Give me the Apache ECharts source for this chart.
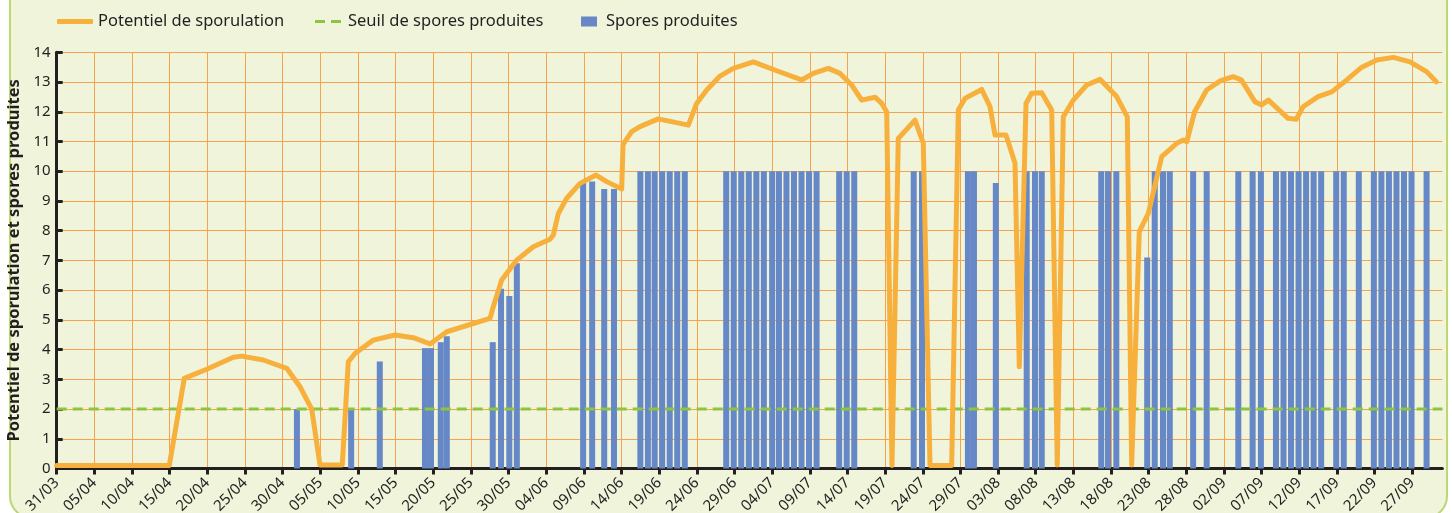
<!DOCTYPE html>
<html>
<head>
<meta charset="utf-8">
<script src="https://cdn.jsdelivr.net/npm/echarts@6/dist/echarts.min.js"></script>
<style>
  html, body { margin: 0; padding: 0; background: #ffffff; }
  #chart { width: 1452px; height: 513px; }
</style>
</head>
<body>
<div id="chart"></div>
<script>
// jour 0 = 31/03
const tickDays = [0, 5, 10, 15, 20, 25, 30, 35, 40, 45, 50, 55, 60, 65, 70, 75, 80, 85, 90, 95,
  100, 105, 110, 115, 120, 125, 130, 135, 140, 145, 150, 155, 160, 165, 170, 175, 180];
const tickLabels = ['31/03', '05/04', '10/04', '15/04', '20/04', '25/04', '30/04', '05/05', '10/05',
  '15/05', '20/05', '25/05', '30/05', '04/06', '09/06', '14/06', '19/06', '24/06', '29/06', '04/07',
  '09/07', '14/07', '19/07', '24/07', '29/07', '03/08', '08/08', '13/08', '18/08', '23/08', '28/08',
  '02/09', '07/09', '12/09', '17/09', '22/09', '27/09'];

// potentiel de sporulation (jour, valeur)
const potentielJour = [0, 14.95, 16.94, 19.92, 23.45, 24.56, 27.43, 30.54, 32.31, 33.86, 34.96, 37.92,
  38.72, 39.61, 42.04, 44.92, 47.35, 49.57, 51.79, 57.54, 57.97, 59.09, 61.08, 63.29, 65.5, 65.94,
  66.61, 67.72, 69.49, 71.61, 73.03, 75.02, 75.2, 76.35, 77.45, 79.88, 83.87, 84.98, 86.31, 88.08,
  89.84, 92.5, 95.6, 98.92, 100.47, 102.46, 104.01, 105.56, 106.89, 108.66, 109.55, 110.21, 110.91,
  111.75, 113.97, 115.07, 115.96, 118.84, 119.72, 120.61, 122.83, 123.93, 124.59, 126.05, 127.25,
  127.82, 128.71, 129.46, 130.79, 132.12, 132.86, 133.66, 134.99, 136.77, 138.53, 140.75, 142.16,
  142.74, 143.75, 144.95, 146.73, 148.72, 149.6, 150.05, 151.1, 152.7, 154.5, 156.2, 157.3, 159.1,
  160.0, 160.9, 163.5, 164.6, 165.5, 167.5, 169.3, 171.3, 173.3, 175.3, 177.5, 179.7, 181.9, 183.2];
const potentielValeur = [0.1, 0.1, 3.03, 3.34, 3.74, 3.78, 3.65, 3.37, 2.75, 2.0, 0.12, 0.12,
  3.59, 3.87, 4.32, 4.49, 4.40, 4.19, 4.60, 5.05, 5.44, 6.34, 7.01, 7.46, 7.71, 7.85,
  8.58, 9.09, 9.59, 9.87, 9.65, 9.40, 10.9, 11.33, 11.5, 11.76, 11.55, 12.28, 12.73, 13.2,
  13.46, 13.68, 13.38, 13.07, 13.29, 13.46, 13.29, 12.9, 12.39, 12.49, 12.28, 12.0, 0.1,
  11.1, 11.72, 10.94, 0.1, 0.1, 12.06, 12.45, 12.75, 12.17, 11.22, 11.22, 10.27,
  3.42, 12.28, 12.62, 12.64, 12.06, 0.12, 11.83, 12.39, 12.9, 13.09, 12.51, 11.83,
  0.12, 7.97, 8.58, 10.49, 10.94, 11.05, 10.99, 12.0, 12.73, 13.04, 13.18, 13.07, 12.34,
  12.23, 12.39, 11.78, 11.75, 12.17, 12.51, 12.67, 13.07, 13.5, 13.74, 13.83, 13.68, 13.35, 13.01];

// spores produites (jour, valeur)
const sporesJour = [31.9, 39.1, 42.9, 48.9, 49.7, 51.0, 51.8, 57.9, 59.0, 60.1, 61.1, 69.9, 71.1, 72.7, 74.0,
  77.5, 78.5, 79.4, 80.4, 81.4, 82.4, 83.4,
  88.9, 89.9, 90.9, 91.9, 92.9, 93.9, 95.0, 95.9, 96.9, 97.9, 98.9, 99.9, 100.9,
  103.9, 104.9, 105.9, 113.8, 114.9, 121.0, 121.8, 124.7, 128.8, 129.9, 130.8,
  138.7, 139.6, 140.7, 144.8, 145.8, 146.9, 147.8, 150.9, 152.7, 156.9, 158.8, 159.9,
  161.9, 162.9, 163.9, 164.9, 165.9, 166.9, 167.9, 169.9, 170.9, 172.9,
  174.9, 175.9, 176.9, 177.9, 178.9, 179.9, 181.9];
const sporesValeur = [2.0, 2.0, 3.6, 4.05, 4.05, 4.25, 4.45, 4.25, 6.05, 5.8, 6.9, 9.6, 9.65, 9.4, 9.4,
  10, 10, 10, 10, 10, 10, 10,
  10, 10, 10, 10, 10, 10, 10, 10, 10, 10, 10, 10, 10,
  10, 10, 10, 10, 10, 10, 10, 9.6, 10, 10, 10,
  10, 10, 10, 7.1, 10, 10, 10, 10, 10, 10, 10, 10,
  10, 10, 10, 10, 10, 10, 10, 10, 10, 10,
  10, 10, 10, 10, 10, 10, 10];

const seuil = 2;
const jourDebut = 0;
const jourFin = 184;

const chart = echarts.init(document.getElementById('chart'), null, { renderer: 'canvas' });

const police = '"Noto Sans", "Open Sans", sans-serif';
const texte = '#231f20';
const legendeTexte = { fontSize: 16.5, color: texte, fontFamily: police };

const option = {
  backgroundColor: '#ffffff',
  animation: false,
  textStyle: { fontFamily: police, color: texte },
  graphic: [{
    type: 'rect',
    z: -10,
    shape: { x: 10, y: -30, width: 1437, height: 548, r: 22 },
    style: { fill: '#eff4db', stroke: '#bcd872', lineWidth: 2 }
  }],
  legend: [
    {
      left: 57, top: 13, padding: 0, itemWidth: 36, itemHeight: 5, icon: 'roundRect',
      textStyle: Object.assign({}, legendeTexte, { padding: [0, 0, 0, 0] }),
      data: ['Potentiel de sporulation']
    },
    {
      left: 315, top: 13, padding: 0, itemWidth: 26, itemHeight: 3,
      icon: 'path://M0,0h10v3h-10z M16,0h10v3h-10z',
      textStyle: Object.assign({}, legendeTexte, { padding: [0, 0, 0, 2] }),
      data: ['Seuil de spores produites']
    },
    {
      left: 581, top: 13, padding: 0, itemWidth: 16, itemHeight: 10, icon: 'rect',
      textStyle: Object.assign({}, legendeTexte, { padding: [0, 0, 0, 4] }),
      data: ['Spores produites']
    }
  ],
  grid: { left: 56.7, right: 9.6, top: 52.3, bottom: 44.5, outerBoundsMode: 'none' },
  xAxis: {
    type: 'value',
    min: jourDebut,
    max: jourFin,
    interval: 5,
    axisLine: { lineStyle: { color: '#231f20', width: 3 } },
    axisTick: { show: true, length: 6, customValues: tickDays, lineStyle: { color: '#231f20', width: 3 } },
    axisLabel: {
      customValues: tickDays,
      rotate: 45,
      margin: 12,
      fontSize: 15,
      color: texte,
      fontFamily: police,
      formatter: function (v) {
        const i = tickDays.indexOf(v);
        return i >= 0 ? tickLabels[i] : '';
      }
    },
    splitLine: { show: true, lineStyle: { color: '#f7a24c', width: 1 } }
  },
  yAxis: {
    type: 'value',
    min: 0,
    max: 14,
    interval: 1,
    name: 'Potentiel de sporulation et spores produites',
    nameLocation: 'middle',
    nameGap: 26,
    nameTextStyle: { fontSize: 16.5, fontWeight: 'bold', color: texte, fontFamily: police },
    axisLine: { show: true, lineStyle: { color: '#231f20', width: 3 } },
    axisTick: { show: true, inside: true, length: 6, lineStyle: { color: '#231f20', width: 3 } },
    axisLabel: { fontSize: 15, color: texte, margin: 6, fontFamily: police },
    splitLine: { show: true, lineStyle: { color: '#f7a24c', width: 1 } }
  },
  series: [
    {
      name: 'Spores produites',
      type: 'bar',
      barWidth: 6,
      itemStyle: { color: '#6688c6' },
      data: sporesJour.map((d, i) => [d, sporesValeur[i]]),
      z: 2
    },
    {
      name: 'Seuil de spores produites',
      type: 'line',
      symbol: 'none',
      lineStyle: { color: '#8cc63f', width: 3, type: [10, 6] },
      itemStyle: { color: '#8cc63f' },
      data: [[jourDebut, seuil], [jourFin, seuil]],
      z: 3
    },
    {
      name: 'Potentiel de sporulation',
      type: 'line',
      symbol: 'none',
      lineStyle: { color: '#f8b03c', width: 5, join: 'round', cap: 'round' },
      itemStyle: { color: '#f8b03c' },
      data: potentielJour.map((d, i) => [d, potentielValeur[i]]),
      z: 4
    }
  ]
};

chart.setOption(option);
</script>
</body>
</html>
